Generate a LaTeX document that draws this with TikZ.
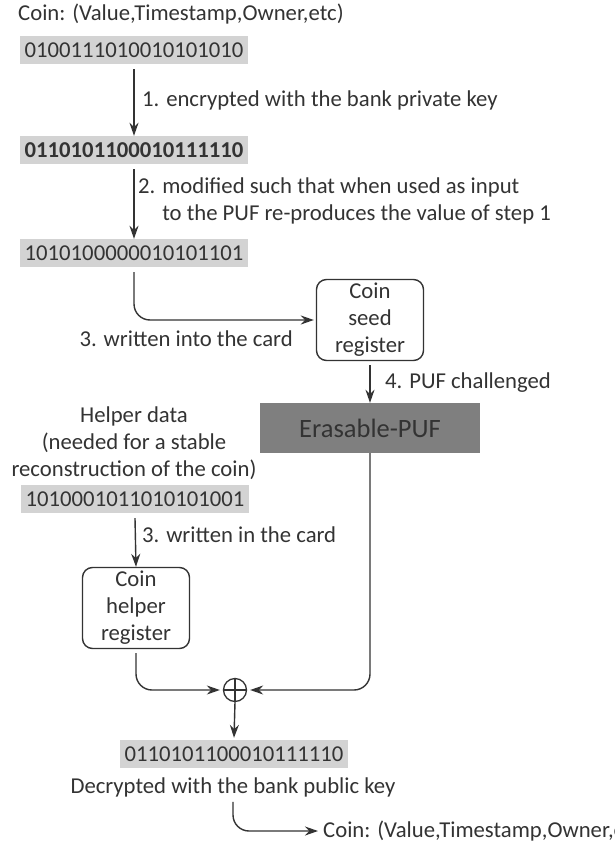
\documentclass[tikz,border=0pt]{standalone}
\usepackage{fontspec}
\setmainfont{Carlito}
\usetikzlibrary{arrows.meta}
\definecolor{ink}{HTML}{333333}
\definecolor{bitgray}{HTML}{D3D3D3}
\definecolor{pufgray}{HTML}{7F7F7F}
\begin{document}
\begin{tikzpicture}[x=1pt,y=-1pt,
  every node/.style={text=ink,inner sep=2pt,font=\fontsize{22.7}{27}\selectfont},
  bits/.style={fill=bitgray,minimum width=228pt,minimum height=28pt,inner sep=0pt},
  register/.style={draw=ink,line width=1.4pt,rounded corners=10pt,minimum width=107pt,minimum height=81pt,align=center,inner sep=0pt},
  flow/.style={draw=ink,line width=1.4pt,-{Stealth[length=13pt,width=9pt]}}]
\fill[white] (0,0) rectangle (614,853);
\useasboundingbox (0,0) rectangle (614,853);
% Chemin de la pièce vers la carte
\node[anchor=west] (title) at (16,14) {Coin: (Value,Timestamp,Owner,etc)};
\node[bits] (coin) at (134,50) {0100111010010101010};
\node[bits,font=\fontsize{22.7}{27}\bfseries] (enc) at (134,150) {0110101100010111110};
\node[bits] (seedbits) at (134,253) {1010100000010101101};
\node[register] (seed) at (370,320) {Coin\\seed\\register};
\node[fill=pufgray,minimum width=220pt,minimum height=50pt,font=\fontsize{26.5}{30}\selectfont] (puf) at (370,428) {Erasable-PUF};
\node[align=center] (helpertxt) at (134,443) {Helper data\\(needed for a stable\\reconstruction of the coin)};
\node[bits] (helperbits) at (135,499) {1010001011010101001};
\node[register] (helper) at (136,608) {Coin\\helper\\register};
\node[draw=ink,circle,line width=1.3pt,minimum size=23pt,inner sep=0pt] (xor) at (235,690) {};
\node[bits] (result) at (234,754) {0110101100010111110};
\node (decrypt) at (233,787) {Decrypted with the bank public key};
\node[anchor=west] (final) at (321,831) {Coin: (Value,Timestamp,Owner,etc)};
\node[anchor=west] (lbl1) at (140,100) {1. encrypted with the bank private key};
\node[anchor=west,align=left] (lbl2) at (136,201) {2. modified such that when used as input\\\phantom{2. }to the PUF re-produces the value of step 1};
\node[anchor=east] (lbl3) at (295,339) {3. written into the card};
\node[anchor=west] (lbl4) at (383,383) {4. PUF challenged};
\node[anchor=west] (lbl5) at (140,535) {3. written in the card};
\draw[ink,line width=1.2pt] (xor.north) -- (xor.south) (xor.west) -- (xor.east);
\draw[flow] ([yshift=-5pt]coin.south) -- (enc.north);
\draw[flow] ([yshift=-5pt]enc.south) -- (seedbits.north);
\draw[flow,rounded corners=16pt] ([yshift=-5pt]seedbits.south) |- ([xshift=-2pt]seed.west);
\draw[flow] ([yshift=-4pt]seed.south) -- (puf.north);
\draw[flow] ([yshift=-5pt]helperbits.south) -- (helper.north);
\draw[flow,rounded corners=16pt] ([yshift=-4pt]helper.south) |- ([xshift=-3pt]xor.west);
\draw[flow,rounded corners=16pt] (puf.south) |- ([xshift=3pt]xor.east);
\draw[flow] (xor.south) -- ([yshift=2pt]result.north);
\draw[flow,rounded corners=16pt] ([yshift=-3pt]decrypt.south) |- ([xshift=-3pt]final.west);
\end{tikzpicture}
\end{document}
